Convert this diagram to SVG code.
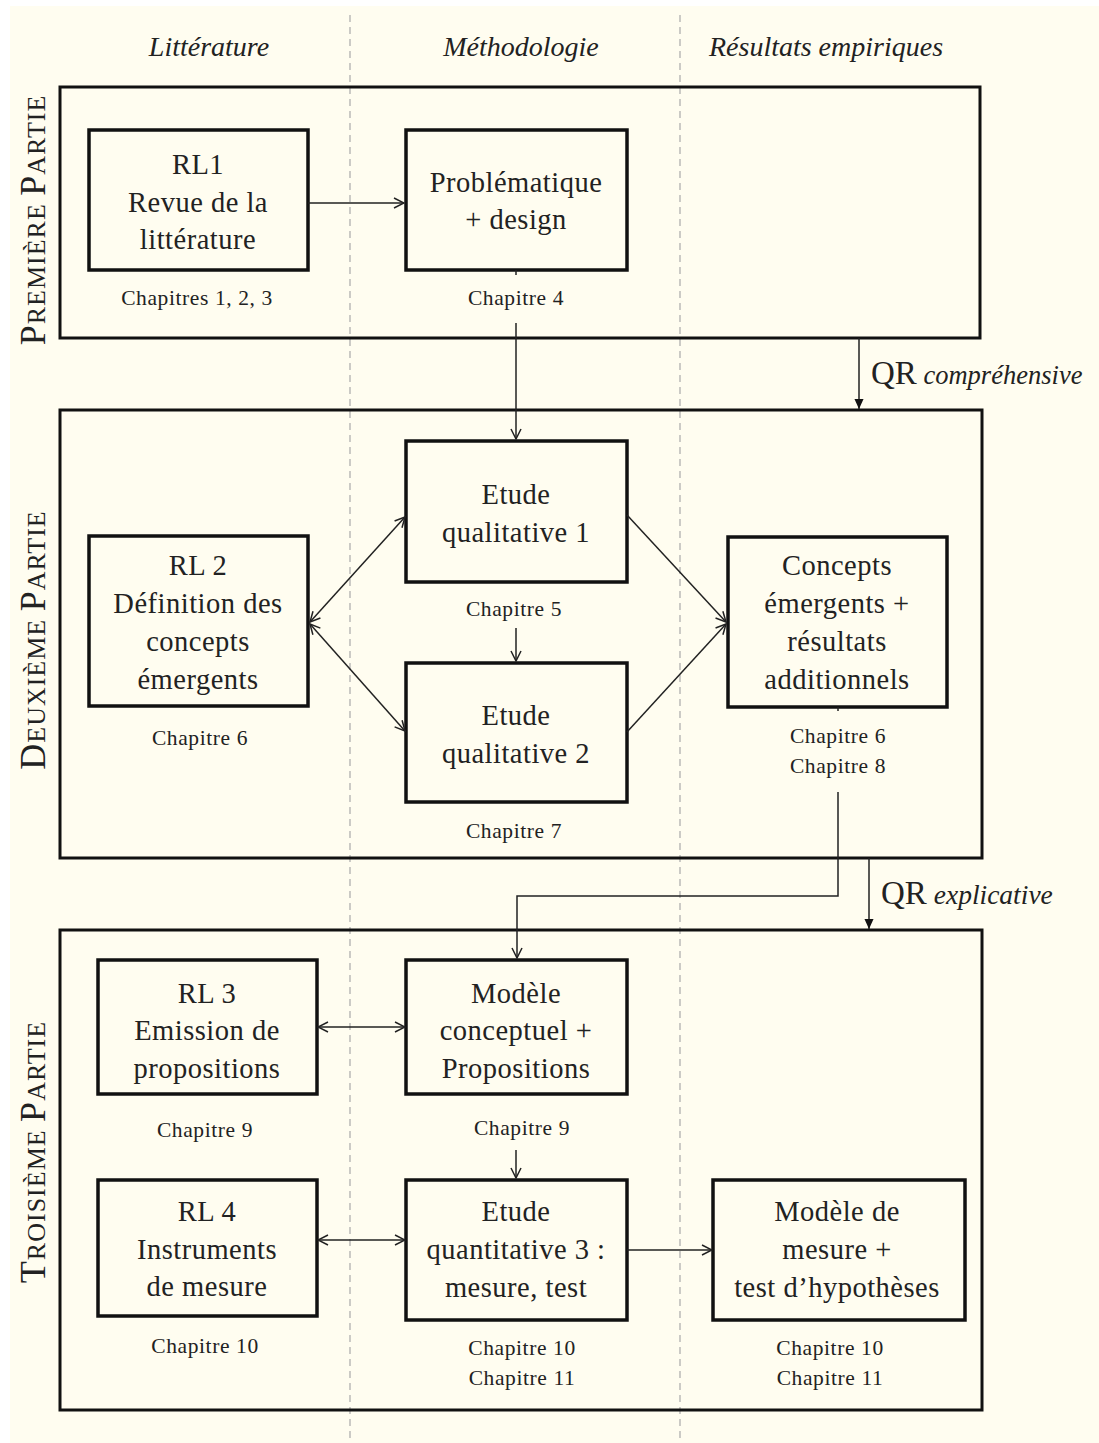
<svg xmlns="http://www.w3.org/2000/svg" width="1099" height="1443" viewBox="0 0 1099 1443">
<style>
  text { font-family: "Liberation Serif", "Times New Roman", serif; fill: #222; }
  .bx { fill: none; stroke: #111; stroke-width: 3.5; }
  .part { fill: none; stroke: #111; stroke-width: 3; }
  .t { font-size: 28.5px; text-anchor: middle; letter-spacing: 0.5px; }
  .ch { font-size: 21.5px; text-anchor: middle; letter-spacing: 0.6px; }
  .hd { font-size: 28px; font-style: italic; text-anchor: middle; }
  .pl { text-anchor: middle; letter-spacing: 1px; }
  .cn { fill: none; stroke: #222; stroke-width: 1.5; }
  .dash { stroke: #aaa; stroke-width: 1.2; stroke-dasharray: 7 5; }
</style>
<defs>
  <marker id="arr" viewBox="0 0 12 12" refX="11" refY="6" markerWidth="12" markerHeight="12" markerUnits="userSpaceOnUse" orient="auto-start-reverse">
    <path d="M1,1 L11,6 L1,11" fill="none" stroke="#222" stroke-width="1.5"/>
  </marker>
  <marker id="tri" viewBox="0 0 12 12" refX="11" refY="6" markerWidth="11" markerHeight="11" markerUnits="userSpaceOnUse" orient="auto">
    <path d="M0,1 L11,6 L0,11 Z" fill="#111"/>
  </marker>
</defs>
<rect x="10" y="6" width="1089" height="1437" fill="#fffdf0"/>
<g id="columns">
  <line class="dash" x1="350" y1="15" x2="350" y2="1443"/>
  <line class="dash" x1="680" y1="15" x2="680" y2="1443"/>
  <text class="hd" x="209" y="56">Littérature</text>
  <text class="hd" x="521" y="56">Méthodologie</text>
  <text class="hd" x="826" y="56">Résultats empiriques</text>
</g>
<g id="part1">
  <rect class="part" x="60" y="87" width="920" height="251"/>
  <text class="pl" transform="translate(45,220) rotate(-90)"><tspan font-size="36">P</tspan><tspan font-size="26">REMIÈRE </tspan><tspan font-size="36">P</tspan><tspan font-size="26">ARTIE</tspan></text>
</g>
<g id="part2">
  <rect class="part" x="60" y="410" width="922" height="448"/>
  <text class="pl" transform="translate(45,640) rotate(-90)"><tspan font-size="36">D</tspan><tspan font-size="26">EUXIÈME </tspan><tspan font-size="36">P</tspan><tspan font-size="26">ARTIE</tspan></text>
</g>
<g id="part3">
  <rect class="part" x="60" y="930" width="922" height="480"/>
  <text class="pl" transform="translate(45,1152) rotate(-90)"><tspan font-size="36">T</tspan><tspan font-size="26">ROISIÈME </tspan><tspan font-size="36">P</tspan><tspan font-size="26">ARTIE</tspan></text>
</g>
<g id="rl1">
  <rect class="bx" x="89" y="130" width="219" height="140"/>
  <text class="t" x="198" y="174">RL1</text>
  <text class="t" x="198" y="212">Revue de la</text>
  <text class="t" x="198" y="249">littérature</text>
  <text class="ch" x="197" y="305">Chapitres 1, 2, 3</text>
</g>
<g id="problematique">
  <rect class="bx" x="406" y="130" width="221" height="140"/>
  <text class="t" x="516" y="192">Problématique</text>
  <text class="t" x="516" y="229">+ design</text>
  <text class="ch" x="516" y="305">Chapitre 4</text>
</g>
<g id="rl2">
  <rect class="bx" x="89" y="536" width="219" height="170"/>
  <text class="t" x="198" y="575">RL 2</text>
  <text class="t" x="198" y="613">Définition des</text>
  <text class="t" x="198" y="651">concepts</text>
  <text class="t" x="198" y="689">émergents</text>
  <text class="ch" x="200" y="745">Chapitre 6</text>
</g>
<g id="etude1">
  <rect class="bx" x="406" y="441" width="221" height="141"/>
  <text class="t" x="516" y="504">Etude</text>
  <text class="t" x="516" y="542">qualitative 1</text>
  <text class="ch" x="514" y="616">Chapitre 5</text>
</g>
<g id="etude2">
  <rect class="bx" x="406" y="663" width="221" height="139"/>
  <text class="t" x="516" y="725">Etude</text>
  <text class="t" x="516" y="763">qualitative 2</text>
  <text class="ch" x="514" y="838">Chapitre 7</text>
</g>
<g id="concepts">
  <rect class="bx" x="728" y="537" width="219" height="170"/>
  <text class="t" x="837" y="575">Concepts</text>
  <text class="t" x="837" y="613">émergents +</text>
  <text class="t" x="837" y="651">résultats</text>
  <text class="t" x="837" y="689">additionnels</text>
  <text class="ch" x="838" y="743">Chapitre 6</text>
  <text class="ch" x="838" y="773">Chapitre 8</text>
</g>
<g id="rl3">
  <rect class="bx" x="98" y="960" width="219" height="134"/>
  <text class="t" x="207" y="1003">RL 3</text>
  <text class="t" x="207" y="1040">Emission de</text>
  <text class="t" x="207" y="1078">propositions</text>
  <text class="ch" x="205" y="1137">Chapitre 9</text>
</g>
<g id="modele">
  <rect class="bx" x="406" y="960" width="221" height="134"/>
  <text class="t" x="516" y="1003">Modèle</text>
  <text class="t" x="516" y="1040">conceptuel +</text>
  <text class="t" x="516" y="1078">Propositions</text>
  <text class="ch" x="522" y="1135">Chapitre 9</text>
</g>
<g id="rl4">
  <rect class="bx" x="98" y="1180" width="219" height="136"/>
  <text class="t" x="207" y="1221">RL 4</text>
  <text class="t" x="207" y="1259">Instruments</text>
  <text class="t" x="207" y="1296">de mesure</text>
  <text class="ch" x="205" y="1353">Chapitre 10</text>
</g>
<g id="etude3">
  <rect class="bx" x="406" y="1180" width="221" height="140"/>
  <text class="t" x="516" y="1221">Etude</text>
  <text class="t" x="516" y="1259">quantitative 3 :</text>
  <text class="t" x="516" y="1297">mesure, test</text>
  <text class="ch" x="522" y="1355">Chapitre 10</text>
  <text class="ch" x="522" y="1385">Chapitre 11</text>
</g>
<g id="modele-mesure">
  <rect class="bx" x="713" y="1180" width="252" height="140"/>
  <text class="t" x="837" y="1221">Modèle de</text>
  <text class="t" x="837" y="1259">mesure +</text>
  <text class="t" x="837" y="1297">test d’hypothèses</text>
  <text class="ch" x="830" y="1355">Chapitre 10</text>
  <text class="ch" x="830" y="1385">Chapitre 11</text>
</g>
<g id="connectors">
  <line class="cn" x1="308" y1="203" x2="404" y2="203" marker-end="url(#arr)"/>
  <line class="cn" x1="516" y1="270" x2="516" y2="275"/>
  <line class="cn" x1="516" y1="323" x2="516" y2="439" marker-end="url(#arr)"/>
  <line class="cn" x1="859" y1="338" x2="859" y2="409" marker-end="url(#tri)"/>
  <line class="cn" x1="310" y1="622" x2="405" y2="517" marker-start="url(#arr)" marker-end="url(#arr)"/>
  <line class="cn" x1="310" y1="624" x2="405" y2="731" marker-start="url(#arr)" marker-end="url(#arr)"/>
  <line class="cn" x1="627" y1="515" x2="726" y2="622" marker-end="url(#arr)"/>
  <line class="cn" x1="627" y1="732" x2="726" y2="624" marker-end="url(#arr)"/>
  <line class="cn" x1="516" y1="628" x2="516" y2="661" marker-end="url(#arr)"/>
  <line class="cn" x1="838" y1="707" x2="838" y2="711"/>
  <path class="cn" d="M838,792 V896 H517 V958" marker-end="url(#arr)"/>
  <line class="cn" x1="869" y1="858" x2="869" y2="929" marker-end="url(#tri)"/>
  <line class="cn" x1="318" y1="1027" x2="405" y2="1027" marker-start="url(#arr)" marker-end="url(#arr)"/>
  <line class="cn" x1="516" y1="1150" x2="516" y2="1178" marker-end="url(#arr)"/>
  <line class="cn" x1="318" y1="1240" x2="405" y2="1240" marker-start="url(#arr)" marker-end="url(#arr)"/>
  <line class="cn" x1="627" y1="1250" x2="712" y2="1250" marker-end="url(#arr)"/>
  <text x="871" y="384"><tspan font-size="33">QR</tspan><tspan font-size="26.5" font-style="italic"> compréhensive</tspan></text>
  <text x="881" y="904"><tspan font-size="33">QR</tspan><tspan font-size="27.5" font-style="italic"> explicative</tspan></text>
</g>
</svg>
